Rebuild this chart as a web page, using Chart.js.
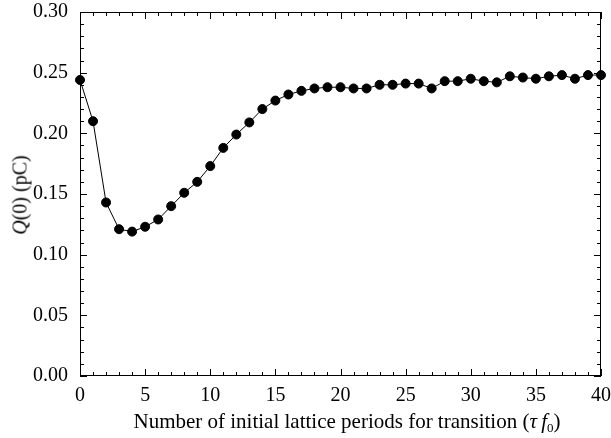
<!DOCTYPE html>
<html>
<head>
<meta charset="utf-8">
<script src="https://cdn.jsdelivr.net/npm/chart.js@4.4.1/dist/chart.umd.min.js"></script>
<style>
  body { margin: 0; background: #fff; }
  #wrap { position: relative; width: 611px; height: 438px; font-family: "Liberation Serif", serif; color: #000; }
  #ytitle { position: absolute; left: 20px; top: 195px; transform: translate(-50%, -50%) rotate(-90deg); white-space: nowrap; font-size: 20px; }
  #xtitle { position: absolute; left: 347px; top: 422px; transform: translate(-50%, -50%); white-space: nowrap; font-size: 21px; }
  sub { font-size: 13px; vertical-align: -4px; }
</style>
</head>
<body>
<div id="wrap">
  <canvas id="c" width="611" height="438"></canvas>
  <div id="ytitle"><i>Q</i>(0) (pC)</div>
  <div id="xtitle">Number of initial lattice periods for transition (<i>τ</i>&#8201;<i>f</i><sub>0</sub>)</div>
</div>
<script>
const periods = [0, 1, 2, 3, 4, 5, 6, 7, 8, 9, 10, 11, 12, 13, 14, 15, 16, 17, 18, 19, 20,
                 21, 22, 23, 24, 25, 26, 27, 28, 29, 30, 31, 32, 33, 34, 35, 36, 37, 38, 39, 40];
const charge = [0.244, 0.210, 0.143, 0.121, 0.119, 0.123, 0.129, 0.140, 0.151, 0.160,
                0.173, 0.188, 0.199, 0.209, 0.220, 0.227, 0.232, 0.235, 0.237, 0.238,
                0.238, 0.237, 0.237, 0.240, 0.240, 0.241, 0.241, 0.237, 0.243, 0.243,
                0.245, 0.243, 0.242, 0.247, 0.246, 0.245, 0.247, 0.248, 0.245, 0.248, 0.248];
const xTicks = [0, 5, 10, 15, 20, 25, 30, 35, 40];
const yTicks = [0, 0.05, 0.10, 0.15, 0.20, 0.25, 0.30];

const font = { family: "Liberation Serif", size: 20 };

// frame + inward ticks on all four sides
const frameTicks = {
    id: 'frameTicks',
    afterDatasetsDraw(chart) {
        const { ctx, chartArea: a, scales } = chart;
        ctx.save();
        ctx.strokeStyle = '#000';
        ctx.lineWidth = 1;
        ctx.strokeRect(a.left + 0.5, a.top + 0.5, a.right - a.left - 1, a.bottom - a.top - 1);
        ctx.beginPath();
        for (let v = 0; v <= 40; v++) {
            const x = Math.round(scales.x.getPixelForValue(v)) + 0.5;
            const len = v % 5 === 0 ? 7 : 4;
            ctx.moveTo(x, a.bottom); ctx.lineTo(x, a.bottom - len);
            ctx.moveTo(x, a.top); ctx.lineTo(x, a.top + len);
        }
        for (let i = 0; i <= 30; i++) {
            const y = Math.round(scales.y.getPixelForValue(i / 100)) + 0.5;
            const len = i % 5 === 0 ? 7 : 4;
            ctx.moveTo(a.left, y); ctx.lineTo(a.left + len, y);
            ctx.moveTo(a.right, y); ctx.lineTo(a.right - len, y);
        }
        ctx.stroke();
        ctx.restore();
    }
};

new Chart(document.getElementById('c'), {
    type: 'scatter',
    data: {
        datasets: [{
            data: periods.map((p, i) => ({ x: p, y: charge[i] })),
            showLine: true,
            borderColor: '#000',
            borderWidth: 1,
            backgroundColor: '#000',
            pointRadius: 4.5,
            pointHoverRadius: 4.5,
            clip: false
        }]
    },
    options: {
        responsive: false,
        animation: false,
        layout: { padding: { top: 12, right: 10, left: 0, bottom: 0 } },
        plugins: { legend: { display: false }, tooltip: { enabled: false } },
        scales: {
            x: {
                type: 'linear',
                min: 0, max: 40,
                grid: { display: false, drawTicks: false },
                border: { display: false },
                afterBuildTicks: s => { s.ticks = xTicks.map(v => ({ value: v })); },
                ticks: { color: '#000', font: font, padding: 8, maxRotation: 0, callback: v => String(v) },
                afterFit: s => { s.height = 62; s.paddingLeft = 0; s.paddingRight = 0; }
            },
            y: {
                min: 0, max: 0.30,
                grid: { display: false, drawTicks: false },
                border: { display: false },
                afterBuildTicks: s => { s.ticks = yTicks.map(v => ({ value: v })); },
                ticks: { color: '#000', font: font, padding: 12, callback: v => v.toFixed(2) },
                afterFit: s => { s.width = 80; s.paddingTop = 0; s.paddingBottom = 0; }
            }
        }
    },
    plugins: [frameTicks]
});
</script>
</body>
</html>
